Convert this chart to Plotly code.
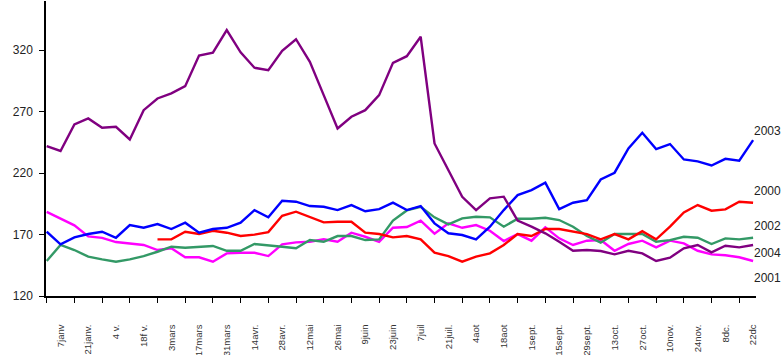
import plotly.graph_objects as go

weeks = list(range(52))

tick_labels = ["7janv", "21janv.", "4 v.", "18f v.", "3mars", "17mars", "31mars", "14avr.",
               "28avr.", "12mai", "26mai", "9juin", "23juin", "7juil", "21juil.", "4aot",
               "18aot", "1sept.", "15sept.", "29sept.", "13oct.", "27oct.", "10nov.", "24nov.",
               "8dc.", "22dc"]

y2004 = [242, 238, 259.6, 264.5, 256.9, 257.7, 247.4, 271.2, 280.7, 284.8, 290.7, 315.7,
         317.9, 336.3, 318.2, 305.7, 303.7, 319.4, 328.9, 310.5, 283.4, 256.3, 265.8, 271.2,
         283.4, 309.7, 315.1, 330.9, 244.1, 222.4, 200.7, 189.9, 199.4, 200.8, 181.3, 176.4,
         171, 164.2, 156.8, 157.4, 156.6, 153.9, 156.8, 154.7, 148.5, 151.2, 158.8, 161.5,
         155.5, 160.9, 159.6, 161.5]

y2003 = [172.3, 162.0, 167.7, 170.4, 172.3, 167.4, 177.7, 175.5, 178.5, 174.5, 179.6, 171.5,
         174.5, 175.5, 179.6, 189.9, 184, 197.5, 196.7, 193.2, 192.6, 189.9, 194, 188.9,
         190.7, 195.9, 189.9, 193.2, 179.1, 171, 169.6, 166.1, 176.4, 189.9, 202.1, 206.2,
         212.2, 190.7, 195.9, 198, 214.8, 220.3, 240.1, 252.8, 239.5, 243.6, 231.1, 229.5,
         226.2, 231.6, 230, 246.8]

y2000 = [None] * 8 + [166.1, 166.1, 172.3, 170.4, 173.1, 171.5, 168.8, 169.9, 172, 185.3,
                      188.6, 184.5, 179.9, 180.4, 180.4, 171.5, 170.4, 167.7, 168.8, 166.1,
                      155.2, 152.5, 147.9, 152, 154.7, 161.5, 170.4, 168.8, 174.5, 174.5,
                      172.3, 170.4, 166.1, 170.4, 166.1, 172.8, 166.1, 176.4, 188, 194,
                      189.4, 190.5, 196.7, 195.9]

y2002 = [148.5, 161.5, 157.4, 152, 149.8, 147.9, 149.8, 152.5, 156, 160.1, 159.3, 160.1,
         160.7, 156.8, 156.8, 162.3, 161.5, 160.1, 158.8, 165.5, 164.1, 168.8, 168.8, 165.5,
         166.1, 181.3, 189.6, 192.6, 184, 178.3, 183.2, 184.5, 184, 176.4, 182.9, 182.9,
         183.7, 181.8, 176.4, 168.8, 163.4, 170.4, 170.4, 170.4, 164.1, 165.5, 168.2, 167.4,
         162.3, 166.9, 166.1, 167.4]

y2001 = [188.4, 183.2, 177.5, 168.5, 167.3, 163.9, 162.8, 161.5, 157.4, 158.8, 151.5, 151.5,
         147.9, 154.7, 155.2, 155.2, 152.5, 162, 163.6, 164.1, 166.1, 164.1, 171.5, 168.2,
         164.1, 175.5, 176.1, 181.3, 170.7, 179.1, 175.5, 177.7, 173.1, 164.7, 170.4, 165,
         175.8, 166.9, 161.5, 165, 165.5, 156.8, 162.3, 165, 159.6, 165, 162.8, 156.8,
         153.9, 153.1, 151.5, 148.5]

series = [
    ("2004", y2004, "#800080", -8),
    ("2003", y2003, "#0000FF", 9),
    ("2000", y2000, "#FF0000", 12),
    ("2002", y2002, "#339966", 12),
    ("2001", y2001, "#FF00FF", -17),
]

fig = go.Figure()
order = ["2001", "2002", "2000", "2003", "2004"]
for name in order:
    s = next(t for t in series if t[0] == name)
    fig.add_trace(go.Scatter(x=weeks, y=s[1], mode="lines", name=name,
                             line=dict(color=s[2], width=2.4), connectgaps=False))

for name, ys, color, yshift in series:
    fig.add_annotation(x=weeks[-1], y=ys[-1], text=name, showarrow=False,
                       xanchor="left", yanchor="middle", xshift=0, yshift=yshift,
                       borderpad=0,
                       font=dict(family="Liberation Sans, Arial", size=12, color="#222222"))

fig.update_layout(
    width=783, height=355,
    margin=dict(l=46, r=27, t=1, b=59, autoexpand=False),
    paper_bgcolor="white", plot_bgcolor="white",
    showlegend=False,
    font=dict(family="Liberation Sans, Arial", color="#222222"),
)
fig.update_xaxes(
    range=[-0.05, 51.21], automargin=False,
    tickmode="array", tickvals=weeks[::2], ticktext=tick_labels,
    tickangle=-90, ticks="outside", ticklen=5, tickcolor="black", tickwidth=1,
    ticklabelshift=14, ticklabelstandoff=18,
    tickfont=dict(family="Liberation Sans Narrow, Arial Narrow, Liberation Sans", size=9.5,
                  color="#333333"),
    showline=True, linecolor="black", linewidth=1.5,
    showgrid=False, zeroline=False,
)
fig.update_yaxes(
    range=[120, 360], automargin=False,
    tickmode="array", tickvals=[120, 170, 220, 270, 320],
    ticks="outside", ticklen=5, tickcolor="black", tickwidth=1,
    tickfont=dict(family="Liberation Sans, Arial", size=12, color="#222222"),
    ticklabelstandoff=4,
    showline=True, linecolor="black", linewidth=1.5,
    showgrid=False, zeroline=False,
)

fig.write_html("out.html", config={"displayModeBar": False},
               post_script="document.body.style.margin='0';document.body.style.overflow='hidden';")
